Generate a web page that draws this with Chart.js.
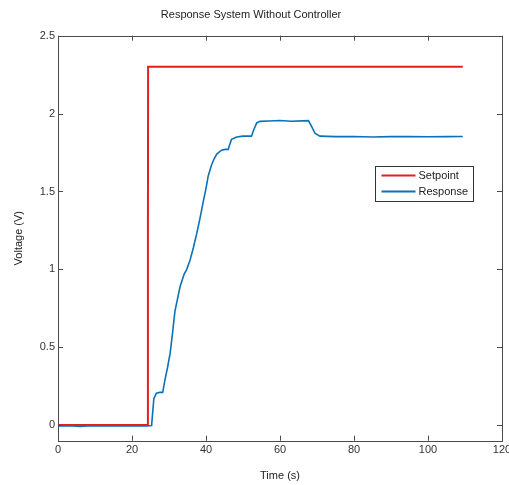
<!DOCTYPE html>
<html>
<head>
<meta charset="utf-8">
<script src="https://cdn.jsdelivr.net/npm/chart.js@4"></script>
<style>
  html, body { margin: 0; padding: 0; background: #fff; }
  #wrap { width: 509px; height: 485px; }
</style>
</head>
<body>
<div id="wrap"><canvas id="plot"></canvas></div>
<script>
// Data
const setpointTime = [0, 24.2, 24.3, 24.35, 109.4];
const setpointVolt = [0, 0, 1.15, 2.3, 2.3];

const responseTime = [0, 3, 6, 9, 12, 15, 18, 21, 24, 25.3, 25.9, 26.6, 27.5, 28.3, 28.9, 29.6, 30.3, 31.0, 31.6, 32.3, 33.0, 34.1, 34.8, 35.7, 36.6, 37.5, 38.4, 39.3, 40.0, 40.6, 41.5, 42.2, 42.9, 44.2, 45.2, 46.0, 46.4, 46.9, 48.3, 50, 52.3, 52.8, 53.7, 54.6, 57, 60, 63, 66, 67.7, 68.6, 69.5, 70.8, 75, 80, 85, 90, 95, 100, 105, 109.4];
const responseVolt = [-0.005, -0.003, -0.008, -0.004, -0.005, -0.003, -0.006, -0.004, -0.005, -0.002, 0.17, 0.205, 0.21, 0.21, 0.29, 0.37, 0.46, 0.6, 0.73, 0.81, 0.89, 0.97, 1.0, 1.06, 1.14, 1.23, 1.33, 1.44, 1.52, 1.6, 1.67, 1.71, 1.74, 1.765, 1.77, 1.77, 1.80, 1.835, 1.85, 1.855, 1.855, 1.89, 1.94, 1.95, 1.952, 1.956, 1.951, 1.953, 1.955, 1.915, 1.872, 1.855, 1.852, 1.853, 1.85, 1.852, 1.853, 1.851, 1.852, 1.853];

const xTicks = [0, 20, 40, 60, 80, 100, 120];
const yTicks = [0, 0.5, 1, 1.5, 2, 2.5];

const seriesNames = ['Setpoint', 'Response'];
const seriesColors = ['#e41f1f', '#0b72b8'];

const FONT = { family: 'Liberation Sans, Arial, sans-serif', size: 11, weight: 'normal' };
const AXIS_COLOR = '#4a4a4a';

function toPoints(xs, ys) {
  return xs.map((x, i) => ({ x: x, y: ys[i] }));
}

// MATLAB style box with inward ticks and an inset legend
const matlabFrame = {
  id: 'matlabFrame',
  afterDatasetsDraw(chart) {
    const { ctx, chartArea: a, scales } = chart;
    ctx.save();
    ctx.strokeStyle = AXIS_COLOR;
    ctx.lineWidth = 1;
    ctx.strokeRect(Math.round(a.left) + 0.5, Math.round(a.top) + 0.5,
      Math.round(a.right - a.left), Math.round(a.bottom - a.top));
    const len = 5;
    ctx.beginPath();
    xTicks.forEach(v => {
      const px = Math.round(scales.x.getPixelForValue(v)) + 0.5;
      ctx.moveTo(px, a.bottom); ctx.lineTo(px, a.bottom - len);
      ctx.moveTo(px, a.top); ctx.lineTo(px, a.top + len);
    });
    yTicks.forEach(v => {
      const py = Math.round(scales.y.getPixelForValue(v)) + 0.5;
      ctx.moveTo(a.left, py); ctx.lineTo(a.left + len, py);
      ctx.moveTo(a.right, py); ctx.lineTo(a.right - len, py);
    });
    ctx.stroke();

    // legend box
    const bw = 98, bh = 35;
    const bx = Math.round(a.right - 29 - bw) + 0.5;
    const by = Math.round(a.top + 130) + 0.5;
    ctx.fillStyle = '#fff';
    ctx.fillRect(bx, by, bw, bh);
    ctx.strokeStyle = '#333';
    ctx.strokeRect(bx, by, bw, bh);
    ctx.font = FONT.size + 'px ' + FONT.family;
    ctx.textBaseline = 'middle';
    ctx.textAlign = 'left';
    seriesNames.forEach((name, i) => {
      const ly = by + 9 + i * 16;
      ctx.strokeStyle = seriesColors[i];
      ctx.lineWidth = 2;
      ctx.beginPath();
      ctx.moveTo(bx + 6, ly); ctx.lineTo(bx + 40, ly);
      ctx.stroke();
      ctx.fillStyle = '#222';
      ctx.fillText(name, bx + 43, ly);
    });
    ctx.restore();
  }
};

new Chart(document.getElementById('plot'), {
  type: 'line',
  data: {
    datasets: [
      {
        label: seriesNames[0],
        data: toPoints(setpointTime, setpointVolt),
        borderColor: seriesColors[0],
        borderWidth: 2,
        pointRadius: 0,
        tension: 0
      },
      {
        label: seriesNames[1],
        data: toPoints(responseTime, responseVolt),
        borderColor: seriesColors[1],
        borderWidth: 1.6,
        pointRadius: 0,
        tension: 0
      }
    ]
  },
  plugins: [matlabFrame],
  options: {
    responsive: true,
    maintainAspectRatio: false,
    animation: false,
    layout: { padding: { left: 0, right: 7, top: 0, bottom: 0 } },
    plugins: {
      legend: { display: false },
      tooltip: { enabled: false },
      title: {
        display: true,
        text: 'Response System Without Controller',
        color: '#222',
        font: FONT,
        padding: { top: 8, bottom: 14.5 }
      }
    },
    scales: {
      x: {
        type: 'linear',
        min: 0,
        max: 120,
        afterBuildTicks: s => { s.ticks = xTicks.map(v => ({ value: v })); },
        afterFit: s => { s.height = 44.3; s.paddingLeft = 0; s.paddingRight = 0; },
        grid: { display: false, tickLength: 0 },
        border: { display: false },
        ticks: { color: '#333', font: FONT, padding: 3, maxRotation: 0, autoSkip: false },
        title: { display: true, text: 'Time (s)', color: '#222', font: FONT, padding: { top: 0, bottom: 2 } }
      },
      y: {
        type: 'linear',
        min: -0.1,
        max: 2.5,
        afterBuildTicks: s => { s.ticks = yTicks.map(v => ({ value: v })); },
        afterFit: s => { s.width = 58; s.paddingTop = 0; s.paddingBottom = 0; },
        grid: { display: false, tickLength: 0 },
        border: { display: false },
        ticks: { color: '#333', font: FONT, padding: 3, callback: v => String(v) },
        title: { display: true, text: 'Voltage (V)', color: '#222', font: FONT, padding: { top: 12, bottom: 0 } }
      }
    }
  }
});
</script>
</body>
</html>
